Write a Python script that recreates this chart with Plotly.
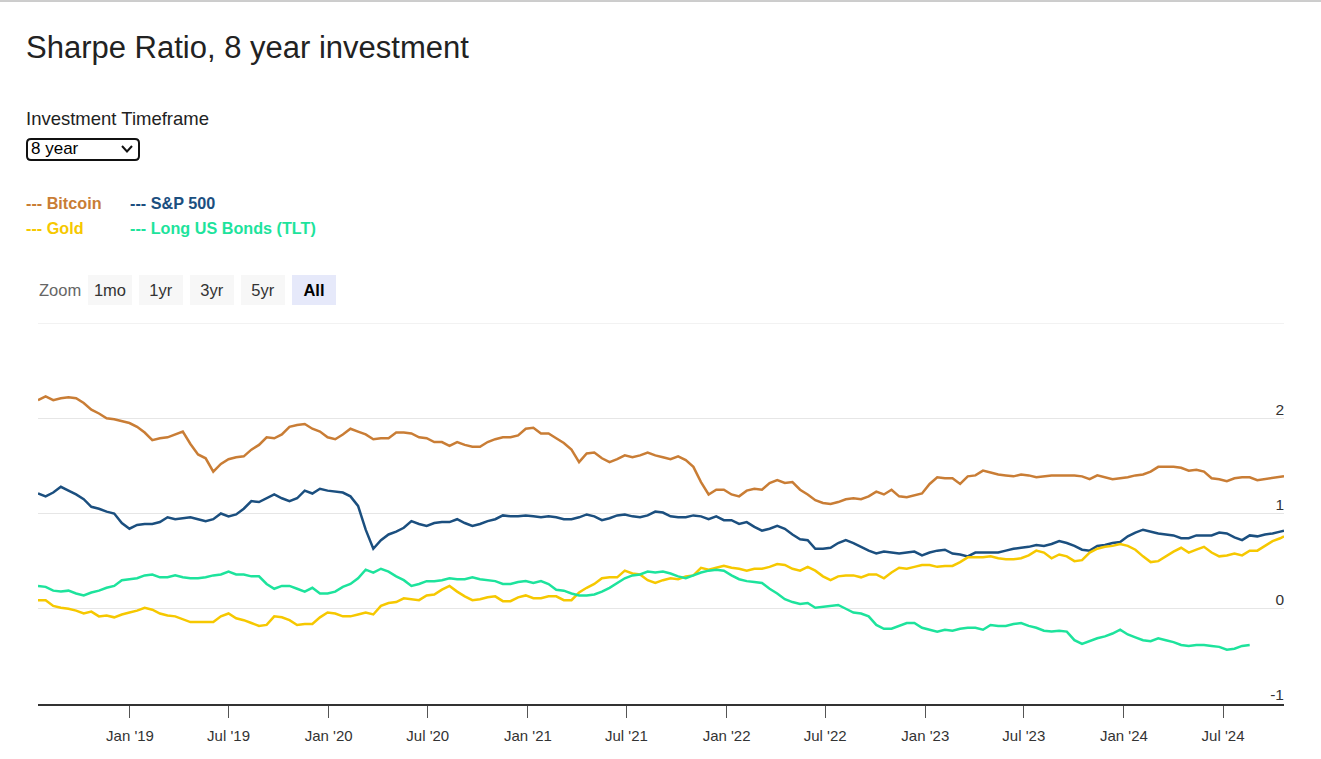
import pandas as pd
import plotly.graph_objects as go

# fortnightly observations, last one is the latest weekly close
dates = list(pd.date_range("2018-07-16", periods=164, freq="14D")) + [pd.Timestamp("2024-10-21")]

bitcoin = [2.19, 2.23, 2.19, 2.21, 2.22, 2.21, 2.16, 2.09, 2.05, 2.00, 1.99, 1.97, 1.95, 1.91, 1.85, 1.77,
           1.79, 1.80, 1.83, 1.86, 1.73, 1.62, 1.58, 1.44, 1.52, 1.57, 1.59, 1.60, 1.67, 1.72, 1.80, 1.79,
           1.83, 1.91, 1.93, 1.94, 1.89, 1.86, 1.80, 1.78, 1.83, 1.89, 1.86, 1.83, 1.78, 1.79, 1.79, 1.85,
           1.85, 1.84, 1.80, 1.79, 1.75, 1.75, 1.71, 1.75, 1.72, 1.70, 1.70, 1.75, 1.78, 1.80, 1.80, 1.82,
           1.89, 1.90, 1.84, 1.84, 1.79, 1.74, 1.67, 1.54, 1.63, 1.64, 1.58, 1.54, 1.57, 1.61, 1.59, 1.61,
           1.64, 1.61, 1.59, 1.57, 1.60, 1.56, 1.49, 1.33, 1.20, 1.25, 1.25, 1.20, 1.18, 1.24, 1.26, 1.25,
           1.32, 1.35, 1.32, 1.33, 1.25, 1.20, 1.14, 1.11, 1.10, 1.12, 1.15, 1.16, 1.15, 1.18, 1.23, 1.20,
           1.25, 1.18, 1.17, 1.19, 1.21, 1.31, 1.38, 1.37, 1.37, 1.31, 1.39, 1.40, 1.45, 1.43, 1.41, 1.40,
           1.39, 1.41, 1.40, 1.38, 1.39, 1.40, 1.40, 1.40, 1.40, 1.39, 1.36, 1.40, 1.38, 1.36, 1.37, 1.38,
           1.40, 1.41, 1.44, 1.49, 1.49, 1.49, 1.48, 1.45, 1.46, 1.44, 1.37, 1.36, 1.34, 1.37, 1.38, 1.38,
           1.35, 1.36, 1.37, 1.38, 1.39]

sp500 = [1.21, 1.18, 1.22, 1.28, 1.24, 1.20, 1.15, 1.07, 1.05, 1.02, 1.00, 0.90, 0.84, 0.88, 0.89, 0.89,
         0.91, 0.96, 0.94, 0.95, 0.96, 0.94, 0.92, 0.94, 1.00, 0.97, 0.99, 1.05, 1.13, 1.12, 1.16, 1.20,
         1.16, 1.13, 1.16, 1.24, 1.21, 1.26, 1.24, 1.23, 1.22, 1.18, 1.08, 0.83, 0.63, 0.72, 0.78, 0.81,
         0.85, 0.92, 0.89, 0.87, 0.90, 0.91, 0.91, 0.94, 0.90, 0.87, 0.89, 0.92, 0.94, 0.98, 0.97, 0.97,
         0.98, 0.97, 0.96, 0.97, 0.96, 0.94, 0.94, 0.96, 0.99, 0.97, 0.93, 0.95, 0.98, 0.99, 0.97, 0.96,
         0.98, 1.02, 1.01, 0.97, 0.96, 0.96, 0.98, 0.97, 0.94, 0.97, 0.93, 0.93, 0.89, 0.91, 0.86, 0.82,
         0.84, 0.87, 0.84, 0.78, 0.73, 0.72, 0.63, 0.63, 0.64, 0.69, 0.72, 0.69, 0.65, 0.61, 0.58, 0.60,
         0.59, 0.58, 0.59, 0.60, 0.56, 0.59, 0.61, 0.62, 0.58, 0.57, 0.55, 0.59, 0.59, 0.59, 0.59, 0.61,
         0.63, 0.64, 0.65, 0.67, 0.66, 0.68, 0.71, 0.69, 0.66, 0.62, 0.61, 0.66, 0.67, 0.69, 0.70, 0.76,
         0.80, 0.83, 0.81, 0.79, 0.78, 0.77, 0.74, 0.74, 0.77, 0.77, 0.77, 0.80, 0.79, 0.75, 0.72, 0.77,
         0.76, 0.78, 0.79, 0.81, 0.82]

gold = [0.09, 0.09, 0.03, 0.01, 0.00, -0.02, -0.05, -0.03, -0.08, -0.07, -0.09, -0.06, -0.04, -0.02, 0.01, -0.01,
        -0.05, -0.07, -0.08, -0.11, -0.14, -0.14, -0.14, -0.14, -0.08, -0.05, -0.10, -0.12, -0.15, -0.18, -0.17, -0.08,
        -0.09, -0.12, -0.17, -0.16, -0.16, -0.09, -0.04, -0.05, -0.08, -0.08, -0.06, -0.04, -0.06, 0.03, 0.06, 0.07,
        0.11, 0.10, 0.09, 0.14, 0.15, 0.20, 0.24, 0.18, 0.13, 0.09, 0.10, 0.12, 0.13, 0.08, 0.08, 0.12,
        0.14, 0.11, 0.11, 0.13, 0.13, 0.09, 0.09, 0.17, 0.22, 0.26, 0.32, 0.33, 0.33, 0.40, 0.37, 0.36,
        0.30, 0.27, 0.30, 0.32, 0.31, 0.34, 0.35, 0.43, 0.41, 0.43, 0.45, 0.43, 0.42, 0.40, 0.42, 0.42,
        0.44, 0.47, 0.46, 0.42, 0.40, 0.44, 0.40, 0.34, 0.30, 0.34, 0.35, 0.35, 0.33, 0.36, 0.36, 0.32,
        0.38, 0.43, 0.42, 0.44, 0.46, 0.46, 0.44, 0.45, 0.45, 0.49, 0.54, 0.54, 0.54, 0.55, 0.53, 0.52,
        0.52, 0.53, 0.56, 0.61, 0.59, 0.53, 0.57, 0.55, 0.50, 0.51, 0.59, 0.63, 0.65, 0.66, 0.68, 0.66,
        0.62, 0.55, 0.49, 0.50, 0.55, 0.60, 0.64, 0.59, 0.62, 0.65, 0.59, 0.55, 0.56, 0.58, 0.56, 0.61,
        0.61, 0.66, 0.71, 0.74, 0.76]

tlt = [0.24, 0.23, 0.19, 0.18, 0.19, 0.16, 0.14, 0.17, 0.19, 0.22, 0.24, 0.30, 0.31, 0.32, 0.35, 0.36,
       0.33, 0.33, 0.35, 0.33, 0.32, 0.32, 0.33, 0.35, 0.36, 0.39, 0.36, 0.36, 0.34, 0.34, 0.26, 0.21,
       0.24, 0.24, 0.21, 0.18, 0.22, 0.16, 0.16, 0.18, 0.23, 0.26, 0.32, 0.41, 0.38, 0.42, 0.39, 0.34,
       0.30, 0.24, 0.26, 0.29, 0.29, 0.30, 0.32, 0.31, 0.31, 0.33, 0.31, 0.30, 0.29, 0.26, 0.26, 0.28,
       0.29, 0.27, 0.29, 0.26, 0.20, 0.19, 0.16, 0.14, 0.14, 0.15, 0.18, 0.22, 0.27, 0.32, 0.35, 0.36,
       0.39, 0.38, 0.39, 0.37, 0.34, 0.32, 0.35, 0.38, 0.40, 0.41, 0.40, 0.35, 0.31, 0.29, 0.28, 0.27,
       0.21, 0.16, 0.10, 0.07, 0.05, 0.06, 0.01, 0.02, 0.03, 0.04, 0.00, -0.04, -0.05, -0.08, -0.17, -0.21,
       -0.21, -0.18, -0.15, -0.15, -0.20, -0.22, -0.24, -0.22, -0.23, -0.21, -0.20, -0.20, -0.22, -0.17, -0.18, -0.18,
       -0.16, -0.15, -0.18, -0.20, -0.23, -0.24, -0.23, -0.24, -0.33, -0.37, -0.34, -0.31, -0.29, -0.26, -0.22, -0.27,
       -0.30, -0.33, -0.34, -0.31, -0.33, -0.35, -0.38, -0.39, -0.38, -0.38, -0.39, -0.40, -0.43, -0.42, -0.39, -0.38]

series = [("Bitcoin", bitcoin, "#c97d35"), ("S&P 500", sp500, "#1b4f7f"),
          ("Gold", gold, "#f6c800"), ("Long US Bonds (TLT)", tlt, "#1de39c")]
zoom_labels = ["1mo", "1yr", "3yr", "5yr", "All"]
y_ticks = [-1, 0, 1, 2]
y_ticktext = ["-1", "0", "1", "2"]

FONT = "Arial, Liberation Sans, sans-serif"
L, R, T, B, W, H = 38, 37, 323, 55, 1321, 759


def px(x):
    return (x - L) / (W - L - R)


def py(y):
    return (H - B - y) / (H - T - B)


def rounded_box(x0, y0, x1, y1, r):
    # rounded rectangle path in paper coords from page pixels
    pts = [("M", x0 + r, y0), ("L", x1 - r, y0), ("Q", x1, y0, x1, y0 + r), ("L", x1, y1 - r),
           ("Q", x1, y1, x1 - r, y1), ("L", x0 + r, y1), ("Q", x0, y1, x0, y1 - r), ("L", x0, y0 + r),
           ("Q", x0, y0, x0 + r, y0)]
    out = []
    for p in pts:
        nums = p[1:]
        coords = " ".join("%.5f,%.5f" % (px(nums[i]), py(nums[i + 1])) for i in range(0, len(nums), 2))
        out.append(p[0] + " " + coords)
    return " ".join(out) + " Z"


fig = go.Figure()
for name, vals, color in series:
    fig.add_trace(go.Scatter(x=dates[:len(vals)], y=vals, name=name, mode="lines",
                             line=dict(color=color, width=2.5), showlegend=False))

annotations = [dict(text="Investment Timeframe", x=px(24), y=py(118), font=dict(size=18.5, color="#222")),
               dict(text="8 year", x=px(29), y=py(149), font=dict(size=17, color="#000")),
               dict(text="Zoom", x=px(37), y=py(290), font=dict(size=16.5, color="#666"))]
for i, (name, vals, color) in enumerate(series):
    annotations.append(dict(text="<b>--- " + name + "</b>", x=px(24 if i % 2 == 0 else 128),
                            y=py(203 if i < 2 else 228), font=dict(size=16.2, color=color)))
for a in annotations:
    a.update(xanchor="left")
for i, lab in enumerate(zoom_labels):
    active = lab == "All"
    annotations.append(dict(text="<b>All</b>" if active else lab, x=px(110 + 51 * i), y=py(290),
                            xanchor="center", width=44, height=30, borderpad=0, borderwidth=0,
                            bgcolor="#e6e9fa" if active else "#f7f7f7",
                            font=dict(size=16.5, color="#000" if active else "#333")))
for a in annotations:
    a.update(xref="paper", yref="paper", yanchor="middle", showarrow=False)

shapes = [
    dict(type="line", xref="paper", yref="paper", x0=px(0), x1=px(W), y0=py(1), y1=py(1),
         line=dict(color="#9a9a9a", width=1)),
    # top grid line (plotly drops the one sitting on the plot edge)
    dict(type="line", xref="paper", yref="y", x0=0, x1=1, y0=3, y1=3,
         line=dict(color="#e6e6e6", width=1), layer="below"),
    dict(type="path", xref="paper", yref="paper", path=rounded_box(27, 139, 139, 160, 4),
         line=dict(color="#111", width=2), fillcolor="white", layer="below"),
    dict(type="path", xref="paper", yref="paper",
         path="M %.5f,%.5f L %.5f,%.5f L %.5f,%.5f" % (px(122), py(146), px(127), py(151.5), px(132), py(146)),
         line=dict(color="#111", width=2)),
]

fig.update_layout(
    width=W, height=H, margin=dict(l=L, r=R, t=T, b=B, autoexpand=False),
    paper_bgcolor="white", plot_bgcolor="white",
    font=dict(family=FONT, color="#333"),
    title=dict(text="Sharpe Ratio, 8 year investment", x=26 / W, y=1 - 47 / H, xref="container",
               yref="container", xanchor="left", yanchor="middle", font=dict(size=31, color="#222")),
    annotations=annotations,
    shapes=shapes,
    xaxis=dict(
        type="date", range=[dates[0], dates[-1]], tickformat="%b '%y", dtick="M6", tick0="2019-01-01",
        showgrid=False, showline=True, linecolor="#333", linewidth=2,
        ticks="outside", ticklen=12, tickcolor="#555", tickwidth=1,
        tickfont=dict(size=15, color="#333"), ticklabelstandoff=5,
    ),
    yaxis=dict(
        range=[-1, 3], tickvals=y_ticks, ticktext=y_ticktext, side="right",
        ticklabelposition="inside", ticklabelshift=-9, ticklabelstandoff=-3, ticklabeloverflow="allow",
        showgrid=True, gridcolor="#e6e6e6", gridwidth=1, zeroline=False, showline=False,
        tickfont=dict(size=15.5, color="#333"),
    ),
)

fig.write_html("out.html", config={"displayModeBar": False},
               post_script="document.body.style.margin = '0px';")
